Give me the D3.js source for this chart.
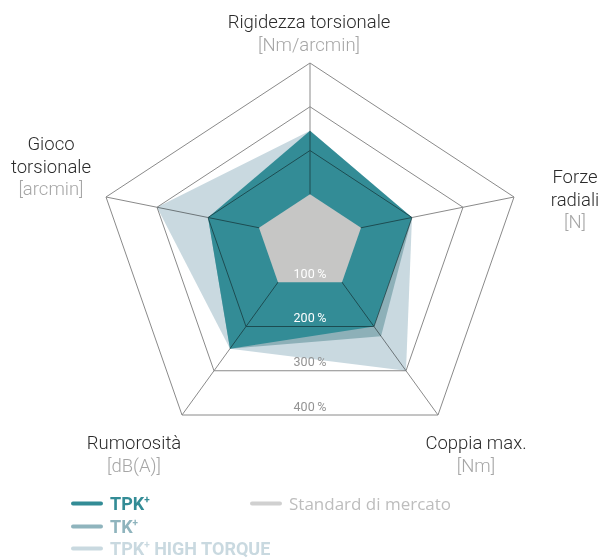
<!DOCTYPE html>
<html>
<head>
<meta charset="utf-8">
<script src="https://cdn.jsdelivr.net/npm/d3@7/dist/d3.min.js"></script>
<style>
  html, body { margin: 0; padding: 0; background: #fff; }
  svg { display: block; }
</style>
</head>
<body>
<svg id="chart" width="601" height="560"></svg>
<script>
// Radar categories (clockwise from top) and their units
const axes = ["Rigidezza torsionale", "Forze radiali", "Coppia max.", "Rumorosità", "Gioco torsionale"];
const units = ["[Nm/arcmin]", "[N]", "[Nm]", "[dB(A)]", "[arcmin]"];

// Ring levels (1 = 100 %)
const levels = [1, 2, 3, 4];
const levelLabels = ["100\u2009%", "200\u2009%", "300\u2009%", "400\u2009%"];

// Series values per axis, relative to market standard (1 = 100 %)
const standard = [1, 1, 1, 1, 1];
const tpk      = [2.45, 2.0, 2.0, 2.5, 2.0];
const tk       = [2.3, 2.0, 2.22, 2.5, 2.0];
const tpkHT    = [2.45, 2.0, 3.0, 2.5, 3.0];

const seriesNames = ["TPK", "TK", "TPK", "Standard di mercato"];

// ---- layout ----
const svg = d3.select("#chart");
const cx = 310, cy = 238;
// outer (400 %) end of every spoke, relative to the centre
const spokeEnd = [[0, -175], [204, -41], [128, 177], [-128, 177], [-204, -41]];
const r = d3.scaleLinear().domain([0, 4]).range([0, 1]);

const pt = (i, v) => [cx + spokeEnd[i][0] * r(v), cy + spokeEnd[i][1] * r(v)];
const poly = vals => vals.map((v, i) => pt(i, v));
const line = d3.line().curve(d3.curveLinearClosed);

const colors = {
  tpk: "#338c96",
  tk: "#8db0b8",
  ht: "#c9d9e0",
  std: "#c6c6c5"
};

// filled series, lightest first
const fills = [
  { vals: tpkHT, color: colors.ht },
  { vals: tk, color: colors.tk },
  { vals: tpk, color: colors.tpk }
];
svg.append("g").selectAll("path").data(fills).join("path")
  .attr("d", d => line(poly(d.vals)))
  .attr("fill", d => d.color);

// grid: rings and spokes, blended over the fills
const grid = svg.append("g").style("mix-blend-mode", "multiply")
  .attr("fill", "none").attr("stroke", "#8a8a8a").attr("stroke-width", 1);
grid.selectAll("path.ring").data(levels.filter(l => l > 1)).join("path")
  .attr("class", "ring")
  .attr("d", l => line(axes.map((a, i) => pt(i, l))));
grid.selectAll("line").data(axes).join("line")
  .attr("x1", cx).attr("y1", cy)
  .attr("x2", (a, i) => pt(i, 4)[0])
  .attr("y2", (a, i) => pt(i, 4)[1]);

// market standard on top
svg.append("path")
  .attr("d", line(poly(standard)))
  .attr("fill", colors.std);

// ring labels along the bottom edge
const bottomY = l => (pt(2, l)[1] + pt(3, l)[1]) / 2;
svg.append("g").selectAll("text").data(levels).join("text")
  .attr("x", cx)
  .attr("y", l => bottomY(l) - 4.5)
  .attr("text-anchor", "middle")
  .attr("font-family", "Roboto, 'Liberation Sans', sans-serif")
  .attr("font-size", 12.5)
  .attr("fill", l => l <= 2 ? "#ffffff" : "#939393")
  .text((l, i) => levelLabels[i]);

// axis labels
const labelLayout = [
  { x: 309, y: 28, lines: ["Rigidezza torsionale"] },
  { x: 575, y: 183, lines: ["Forze", "radiali"] },
  { x: 476, y: 449, lines: ["Coppia max."] },
  { x: 134, y: 449, lines: ["Rumorosità"] },
  { x: 51, y: 150, lines: ["Gioco", "torsionale"] }
];
const lh = 22.5;
const labels = svg.append("g")
  .attr("font-family", "Roboto, 'Liberation Sans', sans-serif")
  .attr("font-weight", 300)
  .attr("font-size", 18.5)
  .attr("text-anchor", "middle");
axes.forEach((name, i) => {
  const L = labelLayout[i];
  const words = L.lines;
  words.forEach((w, k) => {
    labels.append("text").attr("x", L.x).attr("y", L.y + k * lh)
      .attr("fill", "#2b2b2b").text(w);
  });
  labels.append("text").attr("x", L.x).attr("y", L.y + words.length * lh)
    .attr("fill", "#a6a6a6").text(units[i]);
});

// legend
const legendItems = [
  { name: seriesNames[0], sup: "+", extra: "", color: colors.tpk, x: 73, y: 510 },
  { name: seriesNames[1], sup: "+", extra: "", color: "#8fb4bd", x: 73, y: 533 },
  { name: seriesNames[2], sup: "+", extra: " HIGH TORQUE", color: "#c9d9e0", x: 73, y: 555 },
  { name: seriesNames[3], sup: "", extra: "", color: "#d0d0d0", x: 252, y: 510, plain: true }
];
const lg = svg.append("g");
legendItems.forEach(d => {
  lg.append("line")
    .attr("x1", d.x).attr("x2", d.x + 28)
    .attr("y1", d.y - 6.5).attr("y2", d.y - 6.5)
    .attr("stroke", d.color).attr("stroke-width", 4).attr("stroke-linecap", "round");
  const t = lg.append("text")
    .attr("x", d.x + 37).attr("y", d.y)
    .attr("font-family", d.plain ? "'Open Sans', 'Noto Sans', sans-serif" : "Roboto, 'Liberation Sans', sans-serif")
    .attr("font-weight", d.plain ? 400 : 700)
    .attr("font-size", d.plain ? 17 : 18)
    .attr("fill", d.plain ? "#bdbdbd" : d.color);
  t.append("tspan").text(d.name);
  if (d.sup) {
    t.append("tspan").attr("dy", -7).attr("font-size", 10).text(d.sup);
    t.append("tspan").attr("dy", 7).text(d.extra);
  }
});
</script>
</body>
</html>
